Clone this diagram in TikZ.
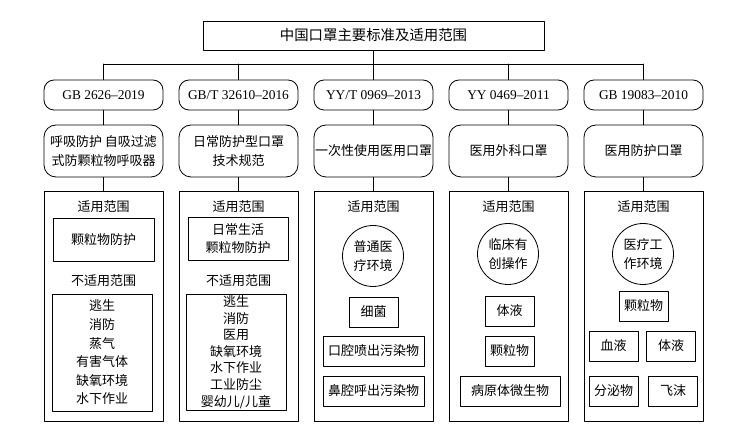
\documentclass[tikz,border=0pt]{standalone}
\usepackage{fontspec}
\setmainfont{Liberation Serif}
\newfontfamily\cjk{Noto Sans CJK SC}
\usetikzlibrary{positioning,calc}
\begin{document}
\begin{tikzpicture}[x=1pt,y=-1pt,line join=round,line cap=round,thick,
 txt/.style={font=\cjk\fontsize{13}{18.5}\selectfont,align=center,inner sep=0pt},
 stdbox/.style={draw,rounded corners=10pt,minimum width=119pt,minimum height=30pt,inner sep=0pt,font=\fontsize{13.4}{15}\selectfont},
 namebox/.style={txt,draw,rounded corners=12pt,minimum width=119pt,minimum height=52pt},
 panel/.style={draw,minimum width=119pt,minimum height=230pt,inner sep=0pt},
 itembox/.style={txt,draw,minimum height=30pt},
 ring/.style={txt,draw,circle,minimum size=61pt}]
\useasboundingbox (0,0) rectangle (744,438);
\node[draw,minimum width=341pt,minimum height=29pt,inner sep=0pt,font=\cjk\fontsize{14.4}{16}\selectfont] (title) at (373.5,35.5) {中国口罩主要标准及适用范围};
\coordinate (bus) at (0,64);
\foreach \i/\x/\s/\n in {1/103.5/{GB 2626–2019}/{呼吸防护 自吸过滤\\式防颗粒物呼吸器},
  2/238.5/{GB/T 32610–2016}/{日常防护型口罩\\技术规范},
  3/373.5/{YY/T 0969–2013}/{一次性使用医用口罩},
  4/508.5/{YY 0469–2011}/{医用外科口罩},
  5/643.5/{GB 19083–2010}/{医用防护口罩}}{
  \node[stdbox] (std\i) at (\x,95) {\s};
  \node[namebox] (name\i) at (\x,151) {\n};
  \node[panel] (pan\i) at (\x,306) {};
  \draw (std\i) -- (name\i) (name\i) -- (pan\i);
  \draw (std\i.north) -- (std\i.north |- bus);
}
\draw (std1.north |- bus) -- (std5.north |- bus);
\draw (title) -- (title.south |- bus);
% 适用范围 headings
\foreach \i in {1,...,5}{\node[txt] (use\i) at (pan\i.north |- 0,207) {适用范围};}
% GB 2626 / GB/T 32610
\node[itembox,minimum width=101pt,minimum height=43pt] (in1) at (103.5,239.5) {颗粒物防护};
\node[txt] (nouse1) at (103.5,281) {不适用范围};
\node[itembox,minimum width=100pt,minimum height=117pt,font=\cjk\fontsize{13}{18.6}\selectfont] (out1) at (102,352.5) {逃生\\消防\\蒸气\\有害气体\\缺氧环境\\水下作业};
\node[itembox,minimum width=100pt,minimum height=43pt] (in2) at (238,238.5) {日常生活\\颗粒物防护};
\node[txt] (nouse2) at (238.5,281) {不适用范围};
\node[itembox,minimum width=100pt,minimum height=116pt,font=\cjk\fontsize{13}{16.6}\selectfont] (out2) at (236,352) {逃生\\消防\\医用\\缺氧环境\\水下作业\\工业防尘\\婴幼儿/儿童};
% circles
\node[ring] (env3) at (373,256) {普通医\\疗环境};
\node[ring] (env4) at (508,254) {临床有\\创操作};
\node[ring] (env5) at (643,254) {医疗工\\作环境};
% small boxes
\foreach \nm/\x/\y/\w/\t in {b31/373.5/312/49/细菌,b32/373.5/351/101/口腔喷出污染物,b33/373.5/391/101/鼻腔呼出污染物,
  b41/509.5/311/49/体液,b42/509.5/351/49/颗粒物,b43/510/391/100/病原体微生物,
  b51/643.5/306/49/颗粒物,b52/613.5/346/49/血液,b53/671/346/49/体液,b54/613.5/391/49/分泌物,b55/673/391/49/飞沫}
  {\node[itembox,minimum width=\w pt] (\nm) at (\x,\y) {\t};}
\end{tikzpicture}
\end{document}
